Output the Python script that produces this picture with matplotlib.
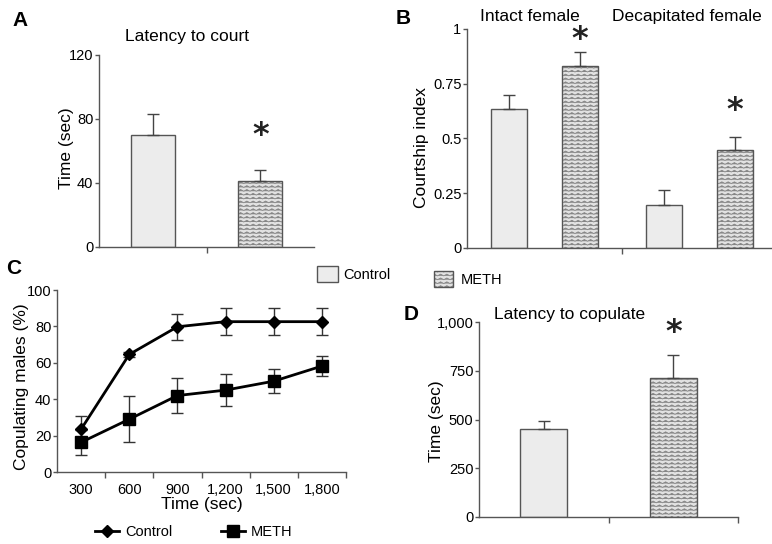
import warnings
warnings.filterwarnings("ignore")
import matplotlib
matplotlib.use("Agg")
import matplotlib.pyplot as plt
import matplotlib.hatch as mhatch
from matplotlib.path import Path
from matplotlib.patches import Patch
from matplotlib.lines import Line2D
from matplotlib.legend_handler import HandlerTuple
import numpy as np

plt.rcParams['font.family'] = ['Liberation Sans', 'DejaVu Sans']
plt.rcParams['hatch.linewidth'] = 0.6

# ---------------- data ----------------
a_groups = ['Control', 'METH']
a_means = [70, 41]
a_err = [13, 7]

b_groups = ['Intact female', 'Decapitated female']
b_control = [0.635, 0.198]
b_control_err = [0.065, 0.068]
b_meth = [0.83, 0.447]
b_meth_err = [0.066, 0.06]

c_times = ['300', '600', '900', '1,200', '1,500', '1,800']
c_control = [23.5, 64.6, 79.8, 82.6, 82.6, 82.6]
c_control_err = [7, 1.2, 7, 7.3, 7.3, 7.3]
c_meth = [16.3, 29, 42, 45, 49.9, 58.2]
c_meth_err = [7, 12.5, 9.5, 9, 6.7, 5.3]

d_groups = ['Control', 'METH']
d_means = [453, 712]
d_err = [37, 120]

# ---------------- wave hatch ----------------
class WaveHatch(mhatch.HatchPatternBase):
    def __init__(self, hatch, density):
        n = hatch.count('~')
        self.num_lines = 26 if n else 0
        self.periods = 16
        self.pts = self.periods * 2 + 1
        self.num_vertices = self.num_lines * self.pts

    def set_vertices_and_codes(self, vertices, codes):
        ys = (np.arange(self.num_lines) + 0.5) / self.num_lines
        xs = np.linspace(0, 1, self.pts)
        amp = 0.22 / self.num_lines
        offs = np.where(np.arange(self.pts) % 2 == 0, -amp, amp)
        for i, y in enumerate(ys):
            s = slice(i * self.pts, (i + 1) * self.pts)
            vertices[s, 0] = xs
            vertices[s, 1] = y + offs
            codes[s] = Path.LINETO
            codes[i * self.pts] = Path.MOVETO

mhatch._hatch_types.append(WaveHatch)

CTRL_FC = '#ececec'
METH_FC = '#e2e2e2'
WAVE_C = '#858585'
EDGE = '#555555'
AX_C = '#555555'
TICK_FS = 10.5
LAB_FS = 12.5

fig = plt.figure(figsize=(7.72, 5.44), dpi=100)
W, H = 772, 544

def px_axes(l, r, t, b):
    return fig.add_axes([l / W, 1 - b / H, (r - l) / W, (b - t) / H])

def style(ax):
    for s in ['top', 'right']:
        ax.spines[s].set_visible(False)
    for s in ['left', 'bottom']:
        ax.spines[s].set_color(AX_C)
        ax.spines[s].set_linewidth(1.0)
    ax.tick_params(axis='y', direction='out', length=3, width=1, color=AX_C,
                   pad=1, labelsize=TICK_FS)
    ax.tick_params(axis='x', which='major', length=0, labelsize=TICK_FS)
    ax.tick_params(axis='x', which='minor', direction='out', length=4,
                   width=1, color=AX_C)

def star(ax, x, y):
    ax.text(x, y, '*', ha='center', va='center', fontsize=23,
            fontweight='bold', color='#222222', family='DejaVu Sans')

def wave_bars(ax, x, h, width):
    ax.bar(x, h, width=width, color=METH_FC, edgecolor=WAVE_C,
           linewidth=0, hatch='~')
    ax.bar(x, h, width=width, fill=False, edgecolor=EDGE, linewidth=1.0)

ekw = dict(ecolor='#444444', elinewidth=1.0, capsize=4, capthick=1.0)

# ---------------- Panel A ----------------
axA = px_axes(99, 314, 55, 247)
style(axA)
xa = np.arange(len(a_groups))
axA.bar(xa[:1], a_means[:1], width=0.41, color=CTRL_FC, edgecolor=EDGE,
        linewidth=1.0)
wave_bars(axA, xa[1:], a_means[1:], 0.41)
axA.errorbar(xa, a_means, yerr=[[0] * len(a_err), a_err], fmt='none', **ekw)
axA.set_xlim(-0.5, 1.5)
axA.set_ylim(0, 120)
axA.set_yticks([0, 40, 80, 120])
axA.set_xticks([])
axA.set_xticks([0.5], minor=True)
axA.set_ylabel('Time (sec)', fontsize=LAB_FS)
axA.yaxis.set_label_coords((74 - 99) / 215, 0.516)
axA.text(0.41, 1.094, 'Latency to court', transform=axA.transAxes,
         ha='center', va='center', fontsize=LAB_FS)
star(axA, 1, 70)

# ---------------- Panel B ----------------
axB = px_axes(467, 777, 29, 248)
style(axB)
xb = np.arange(len(b_groups))
off, bw = 0.226, 0.232
axB.bar(xb - off, b_control, width=bw, color=CTRL_FC, edgecolor=EDGE,
        linewidth=1.0)
wave_bars(axB, xb + off, b_meth, bw)
axB.errorbar(xb - off, b_control, yerr=[[0, 0], b_control_err], fmt='none', **ekw)
axB.errorbar(xb + off, b_meth, yerr=[[0, 0], b_meth_err], fmt='none', **ekw)
axB.set_xlim(-0.5, 1.5)
axB.set_ylim(0, 1)
axB.set_yticks([0, 0.25, 0.5, 0.75, 1])
axB.set_yticklabels(['0', '0.25', '0.5', '0.75', '1'])
axB.set_xticks([])
axB.set_xticks([0.5], minor=True)
axB.set_ylabel('Courtship index', fontsize=LAB_FS)
axB.yaxis.set_label_coords((429 - 467) / 310, 0.46)
for xg, g in zip([-0.094, 0.919], b_groups):
    axB.text(xg, 1.055, g, transform=axB.get_xaxis_transform(),
             ha='center', va='center', fontsize=LAB_FS)
star(axB, 0 + off, 0.95)
star(axB, 1 + off, 0.63)

# ---------------- Panel C ----------------
axC = px_axes(57, 346, 290, 472)
style(axC)
xc = np.arange(len(c_times))
axC.errorbar(xc, c_control, yerr=c_control_err, color='black', lw=2,
             marker='D', markersize=6, ecolor='#333333', elinewidth=1,
             capsize=4, capthick=1, label='Control')
axC.errorbar(xc, c_meth, yerr=c_meth_err, color='black', lw=2,
             marker='s', markersize=8, ecolor='#333333', elinewidth=1,
             capsize=4, capthick=1, label='METH')
axC.set_xlim(-0.5, len(c_times) - 0.5)
axC.set_ylim(0, 100)
axC.set_yticks([0, 20, 40, 60, 80, 100])
axC.set_xticks(xc)
axC.set_xticklabels(c_times)
axC.set_xticks(np.arange(len(c_times)) + 0.5, minor=True)
axC.tick_params(axis='x', which='major', pad=8)
axC.set_xlabel('Time (sec)', fontsize=LAB_FS, labelpad=0)
axC.set_ylabel('Copulating males (%)', fontsize=LAB_FS)
axC.yaxis.set_label_coords((29 - 57) / 289, 0.47)

hC1 = Line2D([], [], color='black', lw=2, marker='D', markersize=6)
hC2 = Line2D([], [], color='black', lw=2, marker='s', markersize=8)
fig.legend([hC1], ['Control'], loc='center left', frameon=False,
           bbox_to_anchor=(88 / W, 1 - 532 / H), borderpad=0,
           handlelength=1.6, handletextpad=0.45, fontsize=TICK_FS)
fig.legend([hC2], ['METH'], loc='center left', frameon=False,
           bbox_to_anchor=(214 / W, 1 - 532 / H), borderpad=0,
           handlelength=1.6, handletextpad=0.45, fontsize=TICK_FS)

# ---------------- middle legend ----------------
fig.legend([Patch(facecolor=CTRL_FC, edgecolor=EDGE)], ['Control'],
           loc='center left', frameon=False,
           bbox_to_anchor=(310 / W, 1 - 274 / H), borderpad=0,
           handlelength=1.4, handleheight=1.4, handletextpad=0.4,
           fontsize=TICK_FS)
meth_handle = (Patch(facecolor=METH_FC, edgecolor=WAVE_C, hatch='~', lw=0),
               Patch(fill=False, edgecolor=EDGE))
fig.legend([meth_handle], ['METH'], loc='center left', frameon=False,
           handler_map={tuple: HandlerTuple(ndivide=1)},
           bbox_to_anchor=(427 / W, 1 - 279 / H), borderpad=0,
           handlelength=1.25, handleheight=1.25, handletextpad=0.55,
           fontsize=TICK_FS)

# ---------------- Panel D ----------------
axD = px_axes(479, 738, 322, 517)
style(axD)
xd = np.arange(len(d_groups))
axD.bar(xd[:1], d_means[:1], width=0.36, color=CTRL_FC, edgecolor=EDGE,
        linewidth=1.0)
wave_bars(axD, xd[1:], d_means[1:], 0.36)
axD.errorbar(xd, d_means, yerr=[[0] * len(d_err), d_err], fmt='none', **ekw)
axD.set_xlim(-0.5, 1.5)
axD.set_ylim(0, 1000)
axD.set_yticks([0, 250, 500, 750, 1000])
axD.set_yticklabels(['0', '250', '500', '750', '1,000'])
axD.set_xticks([])
axD.set_xticks([0.5, 1.5], minor=True)
axD.set_ylabel('Time (sec)', fontsize=LAB_FS)
axD.yaxis.set_label_coords((444 - 479) / 259, 0.49)
axD.text(0.35, 1.036, 'Latency to copulate', transform=axD.transAxes,
         ha='center', va='center', fontsize=LAB_FS)
star(axD, 1, 945)

# ---------------- panel letters ----------------
for lab, x, y in [('A', 20, 20), ('B', 403, 18), ('C', 14, 268), ('D', 411, 315)]:
    fig.text(x / W, 1 - y / H, lab, fontsize=15, fontweight='bold',
             ha='center', va='center')

fig.savefig('out.png', dpi=100)
